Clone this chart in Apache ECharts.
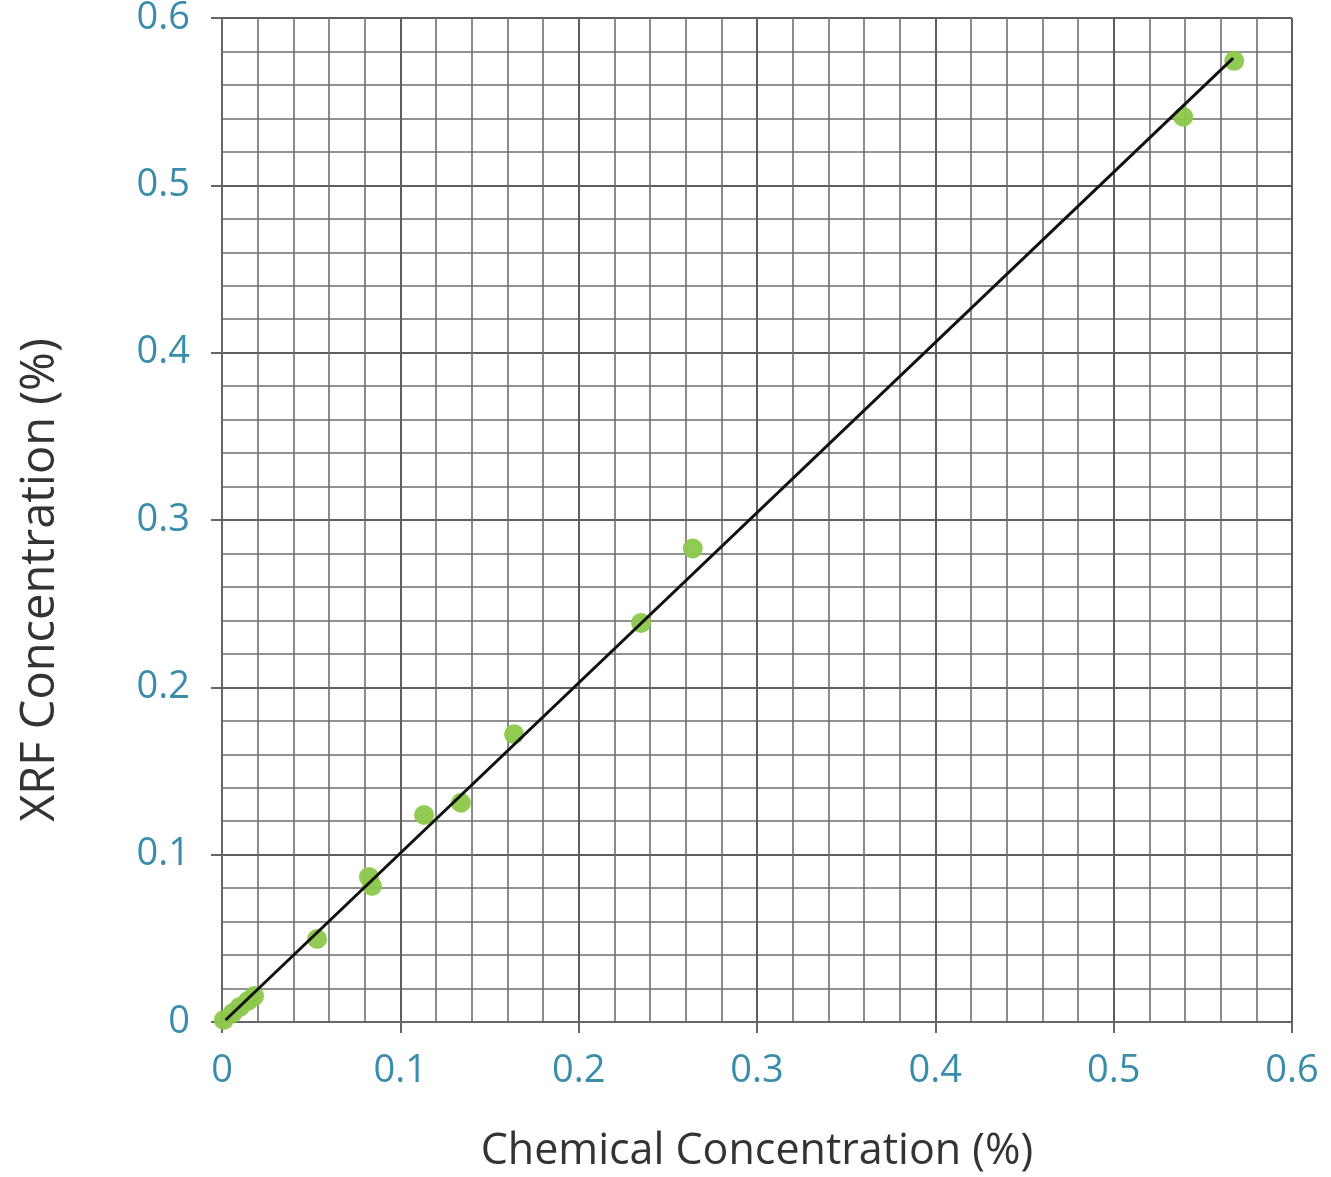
<!DOCTYPE html>
<html>
<head>
<meta charset="utf-8">
<style>
html,body{margin:0;padding:0;background:#fff;}
#chart{width:1331px;height:1177px;}
</style>
<script src="https://cdn.jsdelivr.net/npm/echarts@6/dist/echarts.min.js"></script>
</head>
<body>
<div id="chart"></div>
<script>
// Measured samples: chemical concentration (x) vs XRF concentration (y), in %
var chemX = [0.001, 0.006, 0.010, 0.0146, 0.018, 0.0533, 0.0824, 0.0841, 0.1133, 0.134, 0.1638, 0.235, 0.264, 0.539, 0.5676];
var xrfY  = [0.0012, 0.0054, 0.009, 0.0126, 0.0155, 0.0496, 0.0867, 0.0813, 0.1237, 0.131, 0.172, 0.2385, 0.283, 0.541, 0.5744];
// Fitted trend line endpoints
var fitX = [0.002, 0.567];
var fitY = [0.0012, 0.576];
var tickLabels = ['0', '0.1', '0.2', '0.3', '0.4', '0.5', '0.6'];

var points = chemX.map(function(x, i){ return [x, xrfY[i]]; });
var fitLine = fitX.map(function(x, i){ return [x, fitY[i]]; });

var labelColor = '#3a8daa';
var gridColor = '#6e6e6e';
var fontFam = '"Open Sans", "Noto Sans", sans-serif';

function fmt(v){
  var idx = Math.round(v*10);
  return tickLabels[idx] !== undefined ? tickLabels[idx] : String(v);
}

function axisCommon(name, nameGap, isY){
  return {
    type: 'value',
    min: 0, max: 0.6, interval: 0.1,
    name: name,
    nameLocation: 'middle',
    nameGap: nameGap,
    nameRotate: isY ? 90 : 0,
    nameTextStyle: isY
      ? {color: '#333', fontSize: 47, fontFamily: fontFam, padding: [0, 120, 0, 0]}
      : {color: '#333', fontSize: 43, fontFamily: fontFam},
    axisLine: {show: true, onZero: false, lineStyle: {color: '#666', width: 2}},
    axisTick: {show: true, inside: false, length: 11, lineStyle: {color: '#666', width: 2}},
    axisLabel: {color: labelColor, fontSize: 38, fontFamily: fontFam, margin: isY ? 32 : 30, formatter: fmt},
    splitLine: {show: true, lineStyle: {color: '#5e5e5e', width: 2}},
    minorTick: {show: true, splitNumber: 5, length: 0},
    minorSplitLine: {show: true, lineStyle: {color: gridColor, width: 1.6}}
  };
}

var chart = echarts.init(document.getElementById('chart'));
chart.setOption({
  animation: false,
  backgroundColor: '#fff',
  grid: {left: 222, top: 18, width: 1070, height: 1004, show: false, containLabel: false, outerBoundsMode: 'none'},
  xAxis: axisCommon('Chemical Concentration (%)', 108, false),
  yAxis: axisCommon('XRF Concentration (%)', 158, true),
  series: [
    {
      type: 'scatter',
      data: points,
      symbolSize: 20,
      itemStyle: {color: '#8cc84b', opacity: 0.95},
      z: 2
    },
    {
      type: 'line',
      data: fitLine,
      symbol: 'none',
      lineStyle: {color: '#111', width: 3},
      z: 3
    }
  ]
});
</script>
</body>
</html>
